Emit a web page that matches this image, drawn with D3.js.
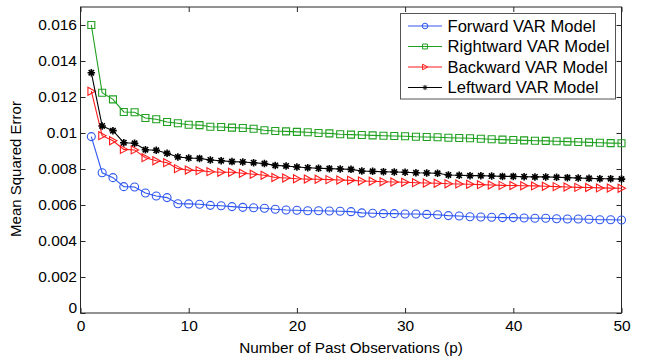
<!DOCTYPE html>
<html>
<head>
<meta charset="utf-8">
<script src="https://cdn.jsdelivr.net/npm/d3@7"></script>
<style>
  body { margin: 0; background: #fff; }
  svg { font-family: "Liberation Sans", Arial, sans-serif; }
</style>
</head>
<body>
<div id="chart"></div>
<script>
// values, p = 1..50
var pastObs = d3.range(1, 51);

var forward = [0.00980, 0.00779, 0.00752, 0.00702, 0.00700, 0.00667, 0.00650, 0.00641, 0.00607, 0.00606,
               0.00604, 0.00598, 0.00596, 0.00591, 0.00587, 0.00585, 0.00582, 0.00576, 0.00572, 0.00571,
               0.00568, 0.00568, 0.00567, 0.00565, 0.00563, 0.00556, 0.00554, 0.00552, 0.00552, 0.00550,
               0.00550, 0.00548, 0.00546, 0.00541, 0.00539, 0.00535, 0.00533, 0.00532, 0.00530, 0.00530,
               0.00528, 0.00526, 0.00526, 0.00524, 0.00522, 0.00522, 0.00521, 0.00518, 0.00518, 0.00517];

var rightward = [0.01600, 0.01224, 0.01187, 0.01117, 0.01115, 0.01083, 0.01076, 0.01061, 0.01054, 0.01046,
                 0.01044, 0.01035, 0.01033, 0.01030, 0.01028, 0.01024, 0.01015, 0.01011, 0.01009, 0.01006,
                 0.01004, 0.01000, 0.00998, 0.00993, 0.00991, 0.00989, 0.00987, 0.00985, 0.00983, 0.00982,
                 0.00979, 0.00978, 0.00976, 0.00974, 0.00972, 0.00971, 0.00968, 0.00965, 0.00963, 0.00961,
                 0.00959, 0.00957, 0.00956, 0.00954, 0.00952, 0.00950, 0.00948, 0.00946, 0.00944, 0.00943];

var backward = [0.01232, 0.00985, 0.00957, 0.00909, 0.00906, 0.00863, 0.00846, 0.00835, 0.00802, 0.00794,
                0.00791, 0.00785, 0.00782, 0.00782, 0.00776, 0.00771, 0.00765, 0.00753, 0.00750, 0.00746,
                0.00744, 0.00743, 0.00741, 0.00739, 0.00737, 0.00733, 0.00732, 0.00729, 0.00728, 0.00726,
                0.00724, 0.00722, 0.00721, 0.00718, 0.00717, 0.00715, 0.00713, 0.00711, 0.00709, 0.00708,
                0.00707, 0.00706, 0.00704, 0.00702, 0.00700, 0.00698, 0.00697, 0.00695, 0.00694, 0.00693];

var leftward = [0.01335, 0.01039, 0.01013, 0.00946, 0.00943, 0.00907, 0.00904, 0.00887, 0.00867, 0.00861,
                0.00859, 0.00850, 0.00846, 0.00841, 0.00839, 0.00835, 0.00830, 0.00820, 0.00817, 0.00811,
                0.00807, 0.00804, 0.00802, 0.00800, 0.00798, 0.00789, 0.00787, 0.00785, 0.00783, 0.00782,
                0.00779, 0.00778, 0.00776, 0.00767, 0.00765, 0.00763, 0.00763, 0.00761, 0.00759, 0.00759,
                0.00757, 0.00756, 0.00756, 0.00754, 0.00752, 0.00750, 0.00748, 0.00746, 0.00746, 0.00744];

var seriesNames = ["Forward VAR Model", "Rightward VAR Model", "Backward VAR Model", "Leftward VAR Model"];
var xTicks = [0, 10, 20, 30, 40, 50];
var yTicks = [0, 0.002, 0.004, 0.006, 0.008, 0.01, 0.012, 0.014, 0.016];
var yTickLabels = ["0", "0.002", "0.004", "0.006", "0.008", "0.01", "0.012", "0.014", "0.016"];

var W = 652, H = 356;
var margin = {top: 7, right: 30.5, bottom: 43, left: 80.5},
    width = W - margin.left - margin.right,
    height = H - margin.top - margin.bottom;

var series = [
  {name: seriesNames[0], values: forward,   color: "#2f57f0", marker: "circle"},
  {name: seriesNames[1], values: rightward, color: "#1fa01f", marker: "square"},
  {name: seriesNames[2], values: backward,  color: "#ff1a1a", marker: "triangle"},
  {name: seriesNames[3], values: leftward,  color: "#000000", marker: "star"}
];

var x = d3.scaleLinear().domain([0, 50]).range([0, width]);
var y = d3.scaleLinear().domain([0, 0.017]).range([height, 0]);

var svg = d3.select("#chart").append("svg")
    .attr("width", W)
    .attr("height", H)
    .append("g")
    .attr("transform", "translate(" + margin.left + "," + margin.top + ")");

var axisColor = "#262626";

// axes with inward ticks, box on
svg.append("g")
    .attr("transform", "translate(0," + height + ")")
    .call(d3.axisBottom(x).tickValues(xTicks).tickSizeInner(-5).tickSizeOuter(0).tickPadding(7).tickFormat(d3.format("d")))
    .call(function(g) { g.select(".domain").remove(); });

var yAxisG = svg.append("g")
    .call(d3.axisLeft(y).tickValues(yTicks).tickSizeInner(-5).tickSizeOuter(0).tickPadding(3.5)
      .tickFormat(function(d, i) { return yTickLabels[i]; }))
    .call(function(g) { g.select(".domain").remove(); });

// the 0 label sits a little above the corner
yAxisG.selectAll(".tick text").filter(function(d) { return d === 0; }).attr("y", -5);

svg.append("g")
    .call(d3.axisTop(x).tickValues(xTicks).tickSizeInner(-5).tickSizeOuter(0).tickFormat(""))
    .call(function(g) { g.select(".domain").remove(); });

svg.append("g")
    .attr("transform", "translate(" + width + ",0)")
    .call(d3.axisRight(y).tickValues(yTicks).tickSizeInner(-5).tickSizeOuter(0).tickFormat(""))
    .call(function(g) { g.select(".domain").remove(); });

svg.selectAll(".tick line").attr("stroke", axisColor);
svg.selectAll(".tick text").attr("fill", "#000").style("font-size", "15.5px")
    .style("font-family", "'Liberation Sans', Arial, sans-serif");

svg.append("rect")
    .attr("width", width)
    .attr("height", height)
    .attr("fill", "none")
    .attr("stroke", axisColor)
    .attr("stroke-width", 1);

// marker shapes
function markerPath(type, s) {
  if (type === "circle") {
    return d3.symbol().type(d3.symbolCircle).size(Math.PI * s * s / 4)();
  }
  if (type === "square") {
    var h = s / 2;
    return "M" + (-h) + "," + (-h) + "H" + h + "V" + h + "H" + (-h) + "Z";
  }
  if (type === "triangle") {
    var a = s / 2;
    return "M" + (-a * 0.85) + "," + (-a) + "L" + (a) + ",0L" + (-a * 0.85) + "," + a + "Z";
  }
  // star: plus and cross
  var r = s / 2, d = r * 0.72;
  return "M" + (-r) + ",0H" + r + "M0," + (-r) + "V" + r +
         "M" + (-d) + "," + (-d) + "L" + d + "," + d +
         "M" + (-d) + "," + d + "L" + d + "," + (-d);
}

var markerSize = {circle: 8, square: 7, triangle: 8, star: 7.5};

var line = d3.line()
    .x(function(d, i) { return x(pastObs[i]); })
    .y(function(d) { return y(d); });

series.forEach(function(s) {
  var g = svg.append("g");
  g.append("path")
      .datum(s.values)
      .attr("fill", "none")
      .attr("stroke", s.color)
      .attr("stroke-width", 1.1)
      .attr("d", line);

  g.selectAll(".m")
      .data(s.values)
      .enter().append("path")
      .attr("transform", function(d, i) { return "translate(" + x(pastObs[i]) + "," + y(d) + ")"; })
      .attr("d", markerPath(s.marker, markerSize[s.marker]))
      .attr("fill", "none")
      .attr("stroke", s.color)
      .attr("stroke-width", s.marker === "star" ? 1.6 : 1.1);
});

// legend
var legend = svg.append("g")
    .attr("transform", "translate(" + (400.5 - margin.left) + "," + (13.5 - margin.top) + ")");

legend.append("rect")
    .attr("width", 215)
    .attr("height", 85.5)
    .attr("fill", "#fff")
    .attr("stroke", "#555")
    .attr("stroke-width", 1);

series.forEach(function(s, i) {
  var ly = 12.5 + i * 20.5;
  var row = legend.append("g").attr("transform", "translate(0," + ly + ")");
  row.append("line")
      .attr("x1", 7.5).attr("x2", 41.5)
      .attr("stroke", s.color).attr("stroke-width", 1.1);
  row.append("path")
      .attr("transform", "translate(24.5,0)")
      .attr("d", markerPath(s.marker, markerSize[s.marker] * 0.7))
      .attr("fill", "none")
      .attr("stroke", s.color)
      .attr("stroke-width", 1);
  row.append("text")
      .attr("x", 47)
      .attr("dy", "0.36em")
      .style("font-size", "16.6px")
      .text(s.name);
});

// axis titles
svg.append("text")
    .attr("x", width / 2)
    .attr("y", height + 40)
    .attr("text-anchor", "middle")
    .style("font-size", "15.3px")
    .text("Number of Past Observations (p)");

svg.append("text")
    .attr("transform", "translate(" + (-60) + "," + 162 + ") rotate(-90)")
    .attr("text-anchor", "middle")
    .style("font-size", "15px")
    .text("Mean Squared Error");
</script>
</body>
</html>
